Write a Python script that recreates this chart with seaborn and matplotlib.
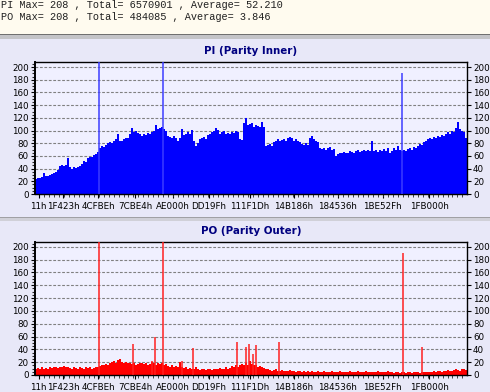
import numpy as np
import pandas as pd
import matplotlib
matplotlib.use("Agg")
import matplotlib.pyplot as plt
import seaborn as sns
from matplotlib.ticker import MultipleLocator, FixedLocator
from matplotlib.patches import Rectangle

# ---------------- data ----------------
header_lines = ["PI Max= 208 , Total= 6570901 , Average= 52.210",
                "PO Max= 208 , Total= 484085 , Average= 3.846"]
titles = ["PI (Parity Inner)", "PO (Parity Outer)"]
x_tick_labels = ["11h", "1F423h", "4CFBEh", "7CBE4h", "AE000h", "DD19Fh",
                 "111F1Dh", "14B186h", "184536h", "1BE52Fh", "1FB000h"]
y_ticks = [0, 20, 40, 60, 80, 100, 120, 140, 160, 180, 200]

pi_values = [
    24, 26, 25, 27, 33, 29, 28, 30, 31, 33,
    35, 38, 44, 46, 44, 45, 57, 42, 40, 42,
    41, 43, 44, 48, 52, 50, 56, 58, 59, 61,
    63, 66, 72, 76, 74, 78, 80, 82, 80, 84,
    86, 95, 83, 84, 86, 89, 88, 94, 104, 97,
    99, 96, 95, 92, 94, 93, 96, 95, 98, 100,
    108, 102, 104, 105, 103, 100, 92, 90, 89, 91,
    88, 84, 89, 103, 93, 95, 97, 94, 101, 84,
    76, 80, 86, 88, 90, 87, 93, 95, 97, 99,
    104, 101, 95, 97, 99, 94, 96, 95, 97, 96,
    99, 97, 86, 85, 112, 119, 108, 110, 112, 106,
    109, 107, 105, 114, 106, 76, 77, 79, 76, 82,
    84, 86, 84, 85, 86, 83, 88, 90, 88, 84,
    86, 84, 82, 79, 77, 80, 78, 89, 91, 87,
    84, 82, 72, 71, 73, 70, 72, 74, 70, 71,
    60, 63, 65, 64, 66, 64, 65, 68, 66, 64,
    67, 69, 66, 68, 70, 67, 69, 68, 84, 67,
    69, 66, 70, 67, 71, 68, 72, 65, 68, 72,
    70, 75, 69, 68, 70, 68, 71, 73, 70, 74,
    72, 76, 79, 77, 82, 84, 86, 88, 87, 90,
    89, 92, 90, 93, 91, 95, 98, 94, 100, 97,
    104, 114, 102, 99, 97, 88,
]

po_values = [
    10, 11, 9, 12, 10, 11, 10, 12, 11, 13, 12, 11, 13,
    13, 14, 12, 13, 11, 10, 12, 11,
    10, 12, 11, 10, 13, 11, 12, 10, 11, 12,
    13, 14, 15, 16, 17, 15, 18,
    20, 22, 19, 23, 25, 21, 19, 20, 18, 19,
    17, 18, 16, 17, 19, 18, 17, 18, 16, 17, 20, 18, 16, 19, 17,
    18, 15, 17, 14, 13, 15, 12, 14, 13, 20, 12, 11, 13,
    10, 11, 9, 10, 12, 9, 8, 10, 9, 8, 9, 10, 8, 9, 10, 9, 11, 10, 9, 12, 10, 11,
    14, 12, 15, 13, 16, 17, 15, 18, 16, 22, 17, 15, 16, 13, 14, 12, 11, 10,
    9, 8, 7, 8, 9, 7, 6, 8, 7, 6, 7, 8, 6, 7, 5, 6, 7,
    5, 6, 5, 7, 5, 6, 4, 5, 6, 5, 4, 6, 5, 5, 4, 6, 5, 4, 5, 6,
    5, 4, 5, 5, 6, 4, 5, 4, 6, 5, 4, 5, 6, 5, 4, 5, 5, 4, 6, 5,
    4, 5, 5, 6, 4,
    4, 3, 4, 5, 3, 4, 4, 3, 5, 4, 3, 4, 5, 4, 3, 5, 4, 5, 4, 5,
    5, 6, 5, 7, 6, 5, 6, 7, 8, 7, 6, 8, 9, 8, 7, 9, 10, 8,
]

pi_spike_lba = [318600, 658900, 1933600]
pi_spike_val = [208, 208, 190]

po_spike_lba = [318600, 502600, 600400, 619500, 658900, 759800, 818300,
                1055400, 1102200, 1116000, 1140000, 1154800, 1278700,
                1934700, 2038900]
po_spike_val = [208, 48, 22, 59, 208, 22, 42,
                51, 44, 48, 32, 47, 51,
                190, 44]

# sampling range of the scan (LBA)
lba_start, lba_end = -20000, 2275000

# ---------------- figure ----------------
sns.set_style("white")
plt.rcParams["font.family"] = ["DejaVu Sans"]

W, H = 490, 392
fig = plt.figure(figsize=(W / 100, H / 100), dpi=100)
fig.patch.set_facecolor("#E8E8F8")

# header band + separators
fig.patches.append(Rectangle((0, 1 - 34 / H), 1, 34 / H, transform=fig.transFigure,
                             facecolor="#FFFBEF", edgecolor="none", zorder=0))
fig.patches.append(Rectangle((0, 1 - 35.5 / H), 1, 1.5 / H, transform=fig.transFigure,
                             facecolor="#707070", edgecolor="none", zorder=0))
fig.patches.append(Rectangle((0, 1 - 38.5 / H), 1, 3 / H, transform=fig.transFigure,
                             facecolor="#C4C4C8", edgecolor="none", zorder=0))
fig.patches.append(Rectangle((0, 1 - 218 / H), 1, 1.5 / H, transform=fig.transFigure,
                             facecolor="#A0A0A4", edgecolor="none", zorder=0))
fig.patches.append(Rectangle((0, 1 - 221 / H), 1, 3 / H, transform=fig.transFigure,
                             facecolor="#D0D0D8", edgecolor="none", zorder=0))

for k, line in enumerate(header_lines):
    fig.text(1 / W, 1 - (5.5 + 12 * k) / H, line, ha="left", va="center",
             family="Liberation Mono", fontsize=7.4, color="#202020")

ax_left, ax_right = 35, 466.7
ax1 = fig.add_axes([ax_left / W, 1 - 194 / H, (ax_right - ax_left) / W, (194 - 62) / H])
ax2 = fig.add_axes([ax_left / W, 1 - 375 / H, (ax_right - ax_left) / W, (375 - 241.7) / H])

tick_lba = [int(s[:-1], 16) for s in x_tick_labels]


def draw(ax, values, spike_lba, spike_val, color, spike_color, title):
    n = len(values)
    edges = np.linspace(lba_start, lba_end, n + 1)
    df = pd.DataFrame({"lba": (edges[:-1] + edges[1:]) / 2,
                       "count": np.asarray(values, dtype=float)})
    sns.histplot(data=df, x="lba", weights="count", bins=list(edges),
                 element="step", fill=True, color=color, alpha=1,
                 linewidth=0, ax=ax, zorder=2)
    ax.vlines(spike_lba, 0, spike_val, color=spike_color, linewidth=1.1, zorder=3)
    ax.set_xlim(lba_start, lba_end)
    ax.set_ylim(0, 208)
    ax.set_facecolor("#F0F0FF")
    ax.set_xlabel("")
    ax.set_ylabel("")
    ax.set_axisbelow(True)
    ax.yaxis.grid(True, linestyle=(0, (2.5, 1.5)), color="#808080", linewidth=0.8)
    ax.xaxis.grid(False)
    ax.set_yticks(y_ticks)
    ax.yaxis.set_minor_locator(MultipleLocator(5))
    ax.xaxis.set_major_locator(FixedLocator(tick_lba))
    ax.set_xticklabels(x_tick_labels)
    ax.xaxis.set_minor_locator(MultipleLocator(26500))
    ax.tick_params(axis="both", which="major", labelsize=6.3, colors="black",
                   length=3, width=0.8, pad=1.5, direction="out")
    ax.tick_params(axis="y", which="major", left=True, right=True,
                   labelleft=True, labelright=True)
    ax.tick_params(axis="y", which="minor", left=True, right=False,
                   length=2, width=0.8, direction="out")
    ax.tick_params(axis="x", which="major", bottom=True, length=3, pad=2.5)
    ax.tick_params(axis="x", which="minor", bottom=True, length=2, width=0.6,
                   direction="out")
    for s in ax.spines.values():
        s.set_visible(True)
        s.set_color("black")
        s.set_linewidth(1.0)
    ax.spines["left"].set_linewidth(1.4)
    ax.set_title(title, fontsize=7.4, fontweight="bold", color="#000080", pad=5.5)


draw(ax1, pi_values, pi_spike_lba, pi_spike_val, "#0000FF", "#3C3CFF", titles[0])
draw(ax2, po_values, po_spike_lba, po_spike_val, "#FF0000", "#FF2020", titles[1])

fig.savefig("out.png", dpi=100, facecolor=fig.get_facecolor())
